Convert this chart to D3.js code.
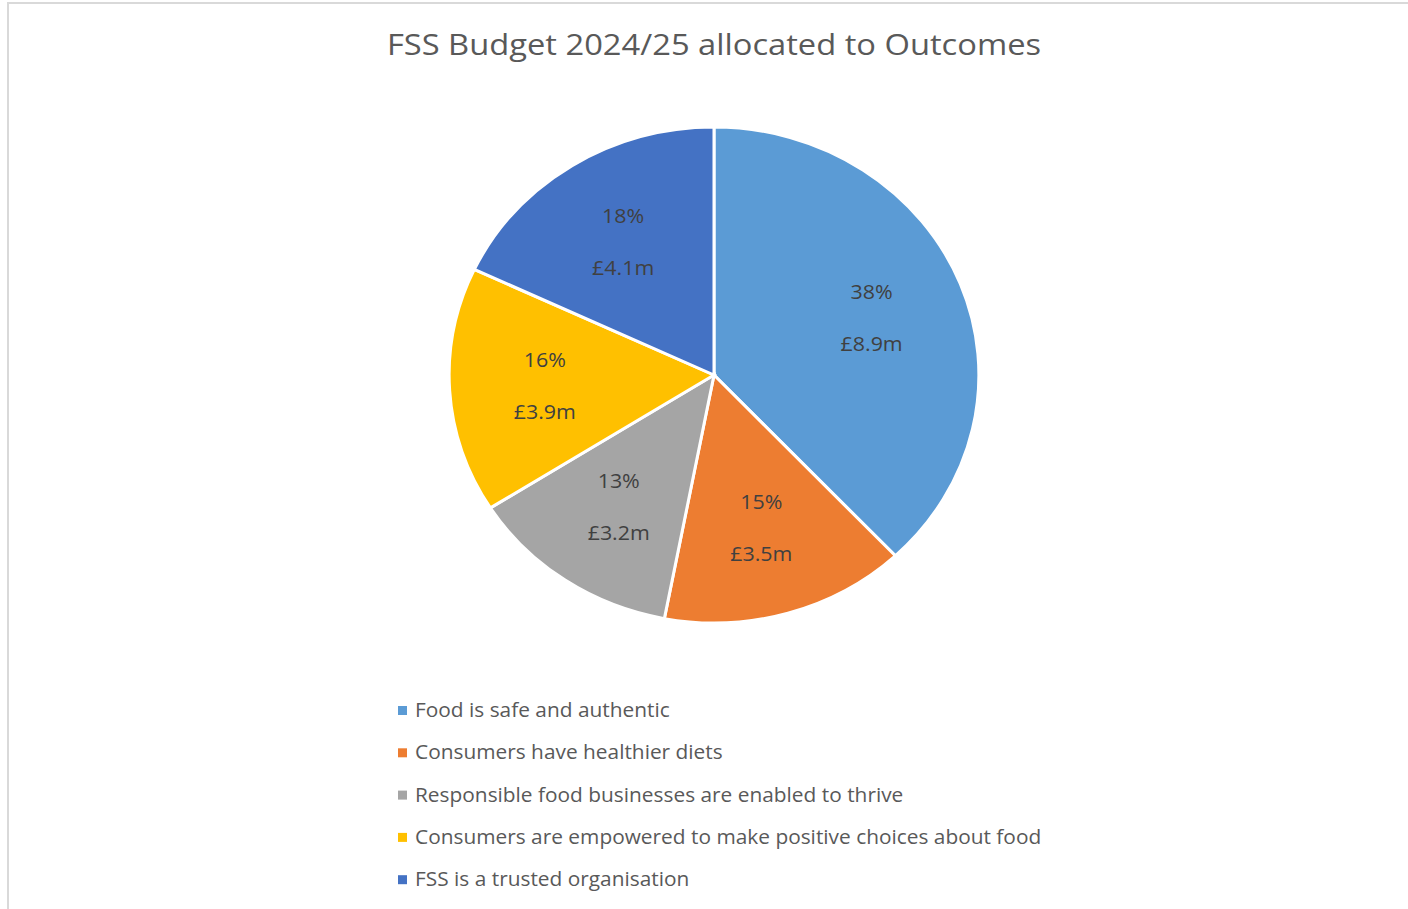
<!DOCTYPE html>
<html>
<head>
<meta charset="utf-8">
<script src="https://cdn.jsdelivr.net/npm/d3@7"></script>
<style>
  body { margin: 0; background: #fff; }
  svg { display: block; font-family: "Open Sans", sans-serif; }
</style>
</head>
<body>
<svg id="chart" width="1408" height="909"></svg>
<script>
const title = "FSS Budget 2024/25 allocated to Outcomes";
const outcomes = [
  "Food is safe and authentic",
  "Consumers have healthier diets",
  "Responsible food businesses are enabled to thrive",
  "Consumers are empowered to make positive choices about food",
  "FSS is a trusted organisation"
];
const shares = [38, 15, 13, 16, 18]; // percent of budget
const amounts = ["£8.9m", "£3.5m", "£3.2m", "£3.9m", "£4.1m"];
const colors = ["#5B9BD5", "#ED7D31", "#A5A5A5", "#FFC000", "#4472C4"];

const width = 1408;
const height = 909;
const cx = 714;
const cy = 375;
const radius = 248;
const stretch = 1.068; // reference pie is a little wider than tall
const textStretch = 1.07; // widen text a bit to match the reference font

let svg = d3.select("#chart");

// Chart area frame
svg.append("rect")
  .attr("x", 8).attr("y", 3)
  .attr("width", 1500).attr("height", 1000)
  .attr("fill", "#fff")
  .attr("stroke", "#d9d9d9")
  .attr("stroke-width", 2);

svg.append("text")
  .attr("transform", `translate(${cx}, 55) scale(1.09, 1)`)
  .attr("text-anchor", "middle")
  .attr("font-size", 30)
  .attr("fill", "#595959")
  .text(title);

const pie = d3.pie().sort(null).value(d => d);
const arcs = pie(shares);
const arc = d3.arc().innerRadius(0).outerRadius(radius);
const labelArc = d3.arc().innerRadius(radius * 0.64).outerRadius(radius * 0.64);

let pieGroup = svg.append("g")
  .attr("transform", `translate(${cx}, ${cy}) scale(${stretch}, 1)`);

pieGroup.selectAll("path")
  .data(arcs)
  .join("path")
  .attr("d", arc)
  .attr("fill", (d, i) => colors[i])
  .attr("stroke", "#fff")
  .attr("stroke-width", 3)
  .attr("vector-effect", "non-scaling-stroke");

// Data labels: percent on top, amount below
let labels = svg.append("g")
  .selectAll("g")
  .data(arcs)
  .join("g")
  .attr("transform", d => {
    const [x, y] = labelArc.centroid(d);
    return `translate(${cx + x * stretch}, ${cy + y}) scale(${textStretch}, 1)`;
  });

labels.append("text")
  .attr("text-anchor", "middle")
  .attr("y", -18)
  .attr("font-size", 20)
  .attr("fill", "#404040")
  .text(d => `${d.data}%`);

labels.append("text")
  .attr("text-anchor", "middle")
  .attr("y", 34)
  .attr("font-size", 20)
  .attr("fill", "#404040")
  .text((d, i) => amounts[i]);

// Legend
const legendX = 398;
const legendY = 710;
const legendStep = 42.3;

let legend = svg.append("g")
  .selectAll("g")
  .data(outcomes)
  .join("g")
  .attr("transform", (d, i) => `translate(${legendX}, ${legendY + i * legendStep})`);

legend.append("rect")
  .attr("x", 0).attr("y", -4)
  .attr("width", 9).attr("height", 9)
  .attr("fill", (d, i) => colors[i]);

legend.append("text")
  .attr("transform", `translate(17, 7) scale(${textStretch}, 1)`)
  .attr("font-size", 19.5)
  .attr("fill", "#595959")
  .text(d => d);
</script>
</body>
</html>
